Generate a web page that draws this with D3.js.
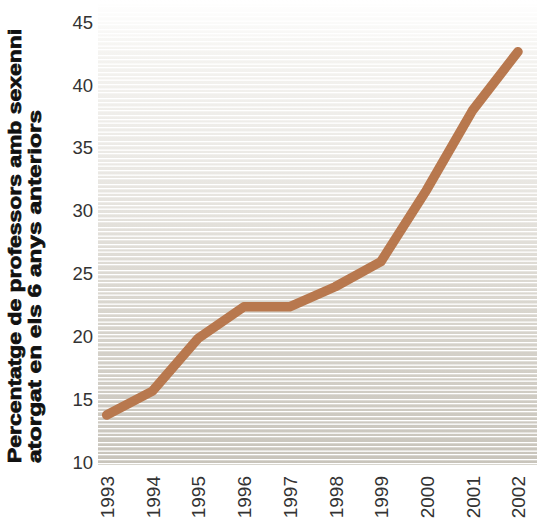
<!DOCTYPE html>
<html>
<head>
<meta charset="utf-8">
<script src="https://cdn.jsdelivr.net/npm/d3@7"></script>
<style>
  html, body { margin: 0; padding: 0; background: #ffffff; }
  svg { display: block; }
</style>
</head>
<body>
<script>
const years = ["1993","1994","1995","1996","1997","1998","1999","2000","2001","2002"];
const values = [13.7, 15.6, 19.8, 22.3, 22.3, 23.9, 25.9, 31.6, 37.9, 42.6];
const yTicks = [10, 15, 20, 25, 30, 35, 40, 45];
const titleLines = ["Percentatge de professors amb sexenni", "atorgat en els 6 anys anteriors"];
const stripeGaps = [4, 5, 3.5, 4.5, 4, 6, 3.5, 4.5, 4.5, 3.5];

const W = 537, H = 519;
const svg = d3.select("body").append("svg").attr("width", W).attr("height", H);

const plot = { left: 98, right: 537, top: 0, bottom: 465 };
const x = d3.scalePoint().domain(years).range([106.7, 518]);
const y = d3.scaleLinear().domain([10, 45]).range([461.5, 21.5]);

// background gradient
const defs = svg.append("defs");
const grad = defs.append("linearGradient").attr("id", "bg").attr("x1", 0).attr("y1", 0).attr("x2", 0).attr("y2", 1);
grad.append("stop").attr("offset", "0%").attr("stop-color", "#ffffff");
grad.append("stop").attr("offset", "12%").attr("stop-color", "#f4f3f0");
grad.append("stop").attr("offset", "35%").attr("stop-color", "#ebe9e5");
grad.append("stop").attr("offset", "60%").attr("stop-color", "#dcd9d2");
grad.append("stop").attr("offset", "100%").attr("stop-color", "#c8c4bb");

svg.append("rect")
  .attr("x", plot.left).attr("y", plot.top)
  .attr("width", plot.right - plot.left).attr("height", plot.bottom - plot.top)
  .attr("fill", "url(#bg)");

// white stripes
const stripes = [];
let sy = plot.bottom - 2, gi = 0;
while (sy > plot.top) { stripes.push(sy); sy -= stripeGaps[gi % stripeGaps.length]; gi++; }
svg.append("g").selectAll("rect").data(stripes).join("rect")
  .attr("x", plot.left).attr("width", plot.right - plot.left)
  .attr("y", d => d).attr("height", 1.3)
  .attr("fill", "#ffffff");

// y axis
const yAxis = d3.axisLeft(y).tickValues(yTicks).tickSize(0).tickPadding(0);
const gy = svg.append("g").attr("transform", "translate(93,0)").call(yAxis);
gy.select(".domain").remove();
gy.selectAll("text")
  .attr("font-family", "Liberation Sans, Arial, sans-serif")
  .attr("font-size", 18.5)
  .attr("fill", "#333333")
  .attr("dy", "0.36em");

// x axis
const xAxis = d3.axisBottom(x).tickSize(0).tickPadding(0);
const gx = svg.append("g").attr("transform", "translate(0,476)").call(xAxis);
gx.select(".domain").remove();
gx.selectAll("text")
  .attr("font-family", "Liberation Sans, Arial, sans-serif")
  .attr("font-size", 19)
  .attr("fill", "#333333")
  .attr("text-anchor", "end")
  .attr("transform", "rotate(-90)")
  .attr("x", 0).attr("y", 0)
  .attr("dy", "0.36em");

// line
const line = d3.line().x((d, i) => x(years[i])).y(d => y(d));
svg.append("path")
  .datum(values)
  .attr("d", line)
  .attr("fill", "none")
  .attr("stroke", "#b8784e")
  .attr("stroke-width", 9.5)
  .attr("stroke-linecap", "round")
  .attr("stroke-linejoin", "round");

// title
const titleX = [21, 41];
const titleLen = [434, 353];
titleLines.forEach((t, i) => {
  svg.append("text")
    .attr("transform", `translate(${titleX[i]},463) rotate(-90)`)
    .attr("font-family", "Liberation Sans, Arial, sans-serif")
    .attr("font-weight", "bold")
    .attr("font-size", 18.5)
    .attr("fill", "#111111")
    .attr("stroke", "#111111")
    .attr("stroke-width", 0.7)
    .attr("textLength", titleLen[i])
    .attr("lengthAdjust", "spacingAndGlyphs")
    .text(t);
});
</script>
</body>
</html>
